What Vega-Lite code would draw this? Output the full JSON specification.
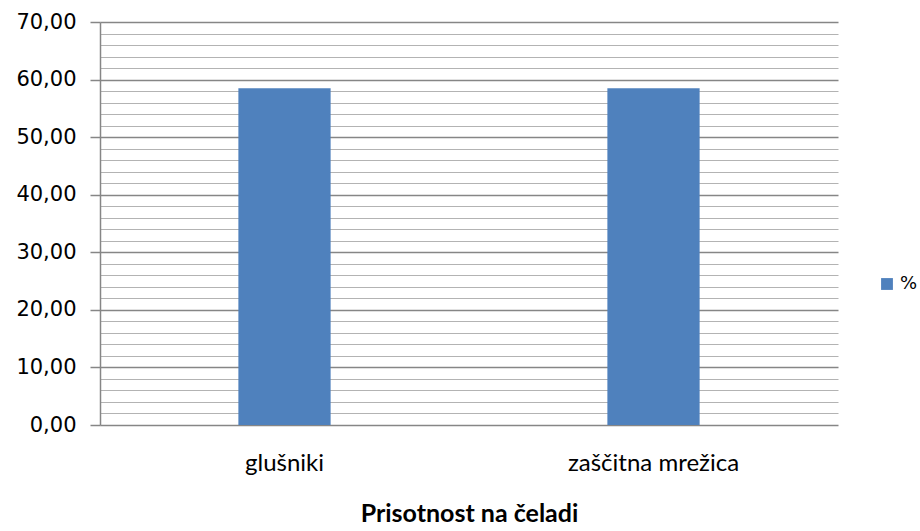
{
  "$schema": "https://vega.github.io/schema/vega-lite/v6.json",
  "autosize": "none",
  "width": 738,
  "height": 403,
  "padding": {"left": 100, "top": 22, "right": 82, "bottom": 106},
  "background": "white",
  "data": {"values": [
    {"kategorija": "glušniki", "serija": "%", "vrednost": 58.5},
    {"kategorija": "zaščitna mrežica", "serija": "%", "vrednost": 58.5}
  ]},
  "mark": {"type": "bar", "width": {"band": 0.25}},
  "encoding": {
    "x": {
      "field": "kategorija", "type": "nominal", "sort": null,
      "scale": {"paddingInner": 0, "paddingOuter": 0},
      "axis": {
        "title": "Prisotnost na čeladi",
        "labelAngle": 0,
        "labelFont": "Lato", "labelFontSize": 24, "labelColor": "#000000",
        "labelPadding": 26,
        "titleFont": "Lato", "titleFontSize": 25, "titleFontWeight": "bold", "titleColor": "#000000",
        "titlePadding": 26,
        "ticks": false,
        "domain": false,
        "grid": false
      }
    },
    "y": {
      "field": "vrednost", "type": "quantitative",
      "scale": {"domain": [0, 70], "nice": false},
      "axis": {
        "title": null,
        "values": [0, 2, 4, 6, 8, 10, 12, 14, 16, 18, 20, 22, 24, 26, 28, 30, 32, 34, 36, 38, 40, 42, 44, 46, 48, 50, 52, 54, 56, 58, 60, 62, 64, 66, 68, 70],
        "labelExpr": "datum.value % 10 === 0 ? replace(format(datum.value, '.2f'), '.', ',') : ''",
        "labelFont": "DejaVu Sans", "labelFontSize": 21, "labelColor": "#000000",
        "labelPadding": 14,
        "grid": true,
        "gridColor": {"condition": {"test": "datum.value % 10 === 0", "value": "#868686"}, "value": "#b3b3b3"},
        "gridWidth": {"condition": {"test": "datum.value % 10 === 0", "value": 1.5}, "value": 1},
        "tickSize": 10,
        "tickColor": "#868686",
        "tickWidth": 1.5,
        "tickOpacity": {"condition": {"test": "datum.value % 10 === 0", "value": 1}, "value": 0},
        "domainColor": "#868686",
        "domainWidth": 1.5
      }
    },
    "color": {
      "field": "serija", "type": "nominal",
      "scale": {"range": ["#4F81BD"]},
      "legend": {
        "title": null,
        "orient": "none",
        "legendX": 778,
        "legendY": 253,
        "symbolType": "square",
        "symbolSize": 140,
        "labelFont": "DejaVu Sans",
        "labelFontSize": 18,
        "labelColor": "#000000"
      }
    }
  },
  "config": {"view": {"stroke": null}}
}
